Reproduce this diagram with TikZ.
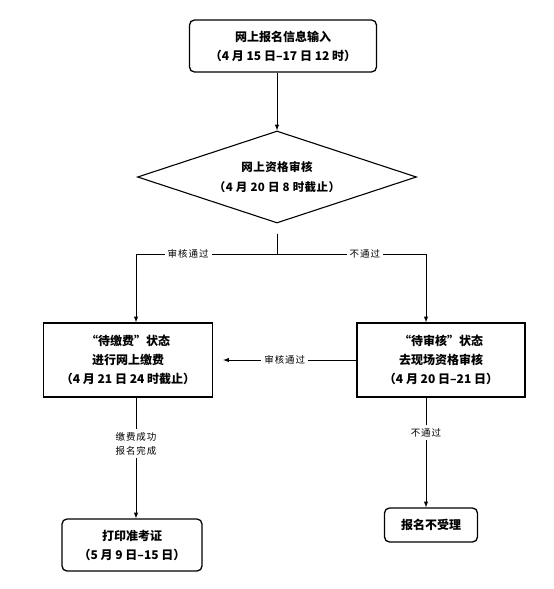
\documentclass[tikz,border=0pt]{standalone}
\usepackage{fontspec}
\setmainfont{Noto Sans CJK SC}
\usetikzlibrary{shapes.geometric,arrows}

\begin{document}
\begin{tikzpicture}[x=1pt,y=-1pt,>=latex,
    main box/.style={rectangle,draw,line width=1.3pt,align=center,
      font=\fontsize{12}{19}\selectfont\bfseries},
    round box/.style={main box,rounded corners=5pt},
    check node/.style={diamond,draw,line width=1.1pt,align=center,inner sep=0pt,
      aspect=3,minimum width=279pt,minimum height=92pt,
      font=\fontsize{11.5}{20}\selectfont\bfseries\addfontfeatures{LetterSpace=4}},
    edge label/.style={fill=white,align=center,inner sep=3pt,
      font=\fontsize{9.5}{14}\selectfont\addfontfeatures{LetterSpace=10}},
    flow/.style={line width=1pt}]

    \useasboundingbox (0,0) rectangle (554,589);

    \node (Input) [round box, minimum width=187pt, minimum height=52pt] at (283,46)
      {网上报名信息输入\\（4 月 15 日–17 日 12 时）};
    \node (Check) [check node] at (277,177)
      {网上资格审核\\（4 月 20 日 8 时截止）};

    \coordinate (Split) at (277,254);
    \coordinate (SplitL) at (136,254);
    \coordinate (SplitR) at (426,254);

    \node (Pay) [main box, minimum width=169pt, minimum height=74pt] at (128,360)
      {“待缴费”状态\\进行网上缴费\\（4 月 21 日 24 时截止）};
    \node (Onsite) [main box, minimum width=168pt, minimum height=74pt] at (441,360)
      {“待审核”状态\\去现场资格审核\\（4 月 20 日–21 日）};

    \node (Print) [round box, minimum width=140pt, minimum height=52pt] at (132,545)
      {打印准考证\\（5 月 9 日–15 日）};
    \node (Reject) [round box, minimum width=93pt, minimum height=34pt] at (431,525)
      {报名不受理};

    %% connectors
    \draw[flow,->] (Check.north |- Input.south) -- (Check.north);
    \draw[flow,shorten <=10pt] (Check.south) -- (Split);
    \draw[flow,->] (Split) -- node[edge label,pos=0.63] {审核通过} (SplitL)
      -- (SplitL |- Pay.north);
    \draw[flow,->] (Split) -- node[edge label,pos=0.59] {不通过} (SplitR)
      -- (SplitR |- Onsite.north);
    \draw[flow,->,shorten >=10pt] (Onsite.west) -- node[edge label] {审核通过} (Pay.east);
    \draw[flow,->] (SplitL |- Pay.south) -- node[edge label,pos=0.38] {缴费成功\\报名完成}
      (SplitL |- Print.north);
    \draw[flow,->] (SplitR |- Onsite.south) -- node[edge label,pos=0.32] {不通过}
      (SplitR |- Reject.north);

\end{tikzpicture}
\end{document}
